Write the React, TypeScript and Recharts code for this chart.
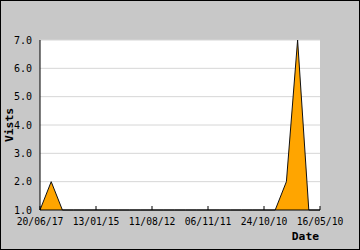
import React from 'react';
import { AreaChart, Area, XAxis, YAxis, CartesianGrid } from 'recharts';

const values: number[] = [1, 2, 1, 1, 1, 1, 1, 1, 1, 1, 1, 1, 1, 1, 1, 1, 1, 1, 1, 1, 1, 1, 2, 7, 1, 1];
const tickIndex: number[] = [0, 5, 10, 15, 20, 25];
const tickLabels: string[] = ['20/06/17', '13/01/15', '11/08/12', '06/11/11', '24/10/10', '16/05/10'];
const yMajor: number[] = [1, 2, 3, 4, 5, 6, 7];
const yMinor: number[] = [1, 1.5, 2, 2.5, 3, 3.5, 4, 4.5, 5, 5.5, 6, 6.5, 7];

const data = values.map((v, i) => ({ i, v }));
const FONT = '"DejaVu Sans Mono", monospace';

export default function App() {
  return (
    <div
      style={{
        position: 'absolute',
        left: 0,
        top: 0,
        width: 360,
        height: 250,
        background: '#c8c8c8',
        border: '1px solid #000',
        boxSizing: 'border-box',
        overflow: 'hidden',
      }}
    >
      <div style={{ position: 'absolute', left: -1, top: -1 }}>
        <AreaChart width={360} height={250} data={data} margin={{ top: 40, right: 40, bottom: 0, left: 0 }}>
          <CartesianGrid fill="#ffffff" stroke="#d6d6d6" vertical={false} horizontalValues={[2, 3, 4, 5, 6, 7]} />
          <XAxis
            dataKey="i"
            type="number"
            domain={[0, 25]}
            ticks={tickIndex}
            tickFormatter={(v: number) => tickLabels[tickIndex.indexOf(v)] ?? ''}
            height={40}
            tickLine={false}
            axisLine={{ stroke: '#000' }}
            tick={{ fontFamily: FONT, fontSize: 9.7, fill: '#000' }}
            interval={0}
            label={{
              content: (props: any) => {
                const vb = props.viewBox || { x: 40, y: 210, width: 280, height: 40 };
                return (
                  <text
                    x={vb.x + vb.width - 1}
                    y={vb.y + 30}
                    textAnchor="end"
                    fontFamily={FONT}
                    fontWeight="bold"
                    fontSize={11.3}
                    fill="#000"
                  >
                    Date
                  </text>
                );
              },
            }}
          />
          <XAxis
            xAxisId="t"
            dataKey="i"
            type="number"
            domain={[0, 25]}
            ticks={tickIndex}
            mirror
            axisLine={false}
            tickSize={4}
            tickLine={{ stroke: '#000' }}
            tickFormatter={() => ''}
            interval={0}
          />
          <YAxis
            type="number"
            domain={[1, 7]}
            ticks={yMajor}
            width={40}
            tickLine={false}
            axisLine={{ stroke: '#000' }}
            tickFormatter={(v: number) => v.toFixed(1)}
            tick={{ fontFamily: FONT, fontSize: 10, fill: '#000' }}
            interval={0}
            label={{
              content: (props: any) => {
                const vb = props.viewBox || { x: 0, y: 40, width: 40, height: 170 };
                const cx = 9.5;
                const cy = vb.y + vb.height / 2;
                return (
                  <text
                    x={cx}
                    y={cy}
                    transform={`rotate(-90 ${cx} ${cy})`}
                    textAnchor="middle"
                    dominantBaseline="central"
                    fontFamily={FONT}
                    fontWeight="bold"
                    fontSize={11.3}
                    fill="#000"
                  >
                    Vists
                  </text>
                );
              },
            }}
          />
          <YAxis
            yAxisId="t"
            type="number"
            domain={[1, 7]}
            ticks={yMinor}
            mirror
            axisLine={false}
            tickSize={4}
            tickLine={{ stroke: '#000' }}
            tickFormatter={() => ''}
            interval={0}
          />
          <Area
            type="linear"
            dataKey="v"
            fill="#ffa500"
            fillOpacity={1}
            stroke="#111"
            strokeWidth={1}
            dot={false}
            activeDot={false}
            isAnimationActive={false}
          />
        </AreaChart>
      </div>
    </div>
  );
}
